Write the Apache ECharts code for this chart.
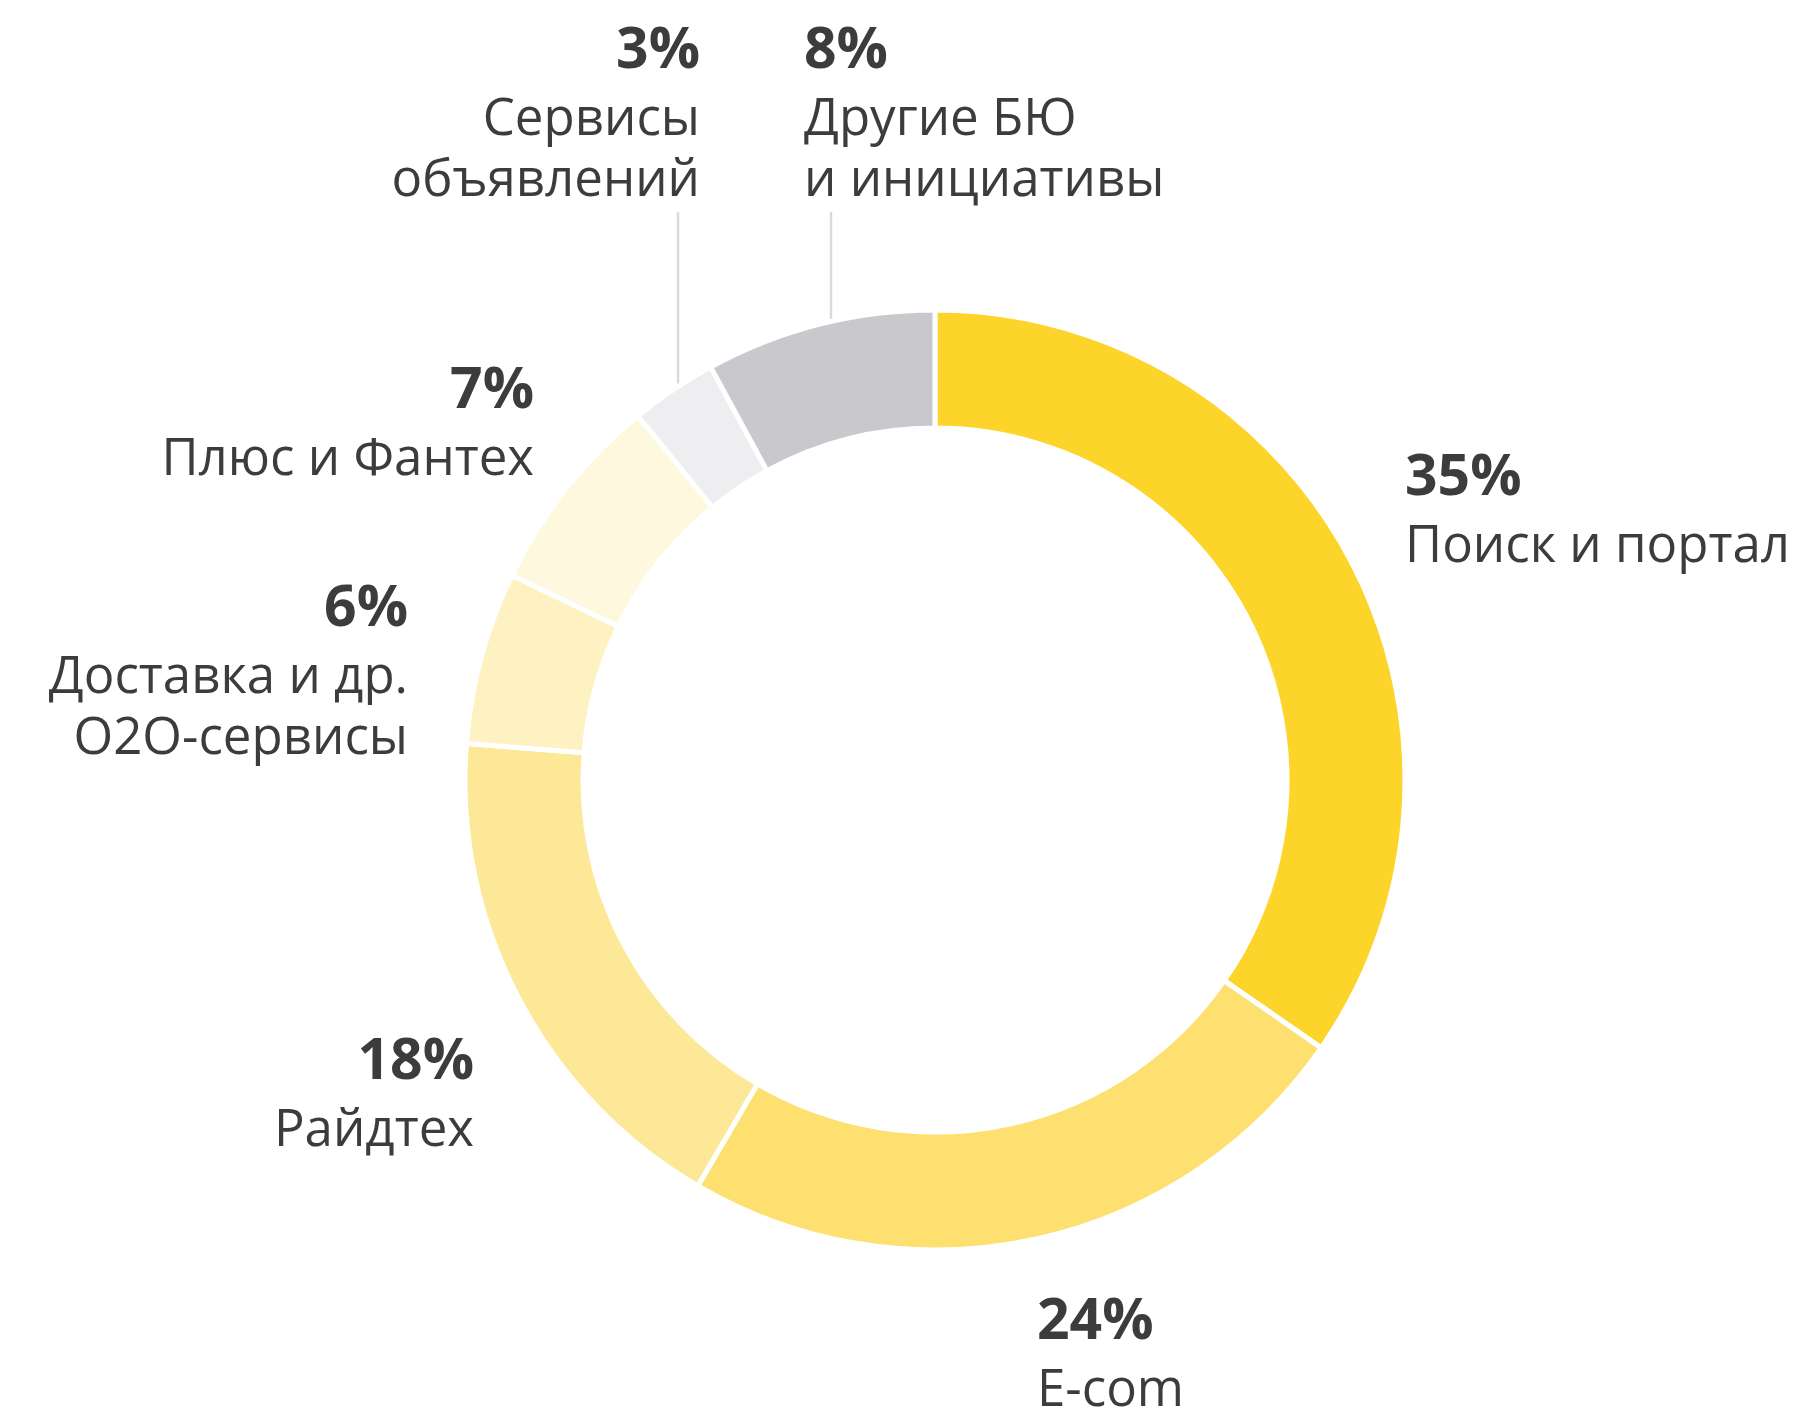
<!DOCTYPE html>
<html>
<head>
<meta charset="utf-8">
<script src="https://cdn.jsdelivr.net/npm/echarts@6/dist/echarts.min.js"></script>
<style>
  html, body { margin: 0; padding: 0; background: #ffffff; }
  #chart { width: 1813px; height: 1411px; }
</style>
</head>
<body>
<div id="chart"></div>
<script>
// Revenue structure by business segment, %
const categories = [
  'Поиск и портал',
  'E-com',
  'Райдтех',
  'Доставка и др.\nO2O-сервисы',
  'Плюс и Фантех',
  'Сервисы\nобъявлений',
  'Другие БЮ\nи инициативы'
];
const shares = [35, 24, 18, 6, 7, 3, 8];

const sliceColors = ['#fcd42a', '#fee070', '#fde897', '#fef2c2', '#fef8de', '#eeeef0', '#c9c9cd'];

// Label placement: text anchor, alignment side, optional leader line
const labelAnchors = [
  { x: 1405, y: 440, side: 'left' },
  { x: 1037, y: 1284, side: 'left' },
  { x: 474, y: 1024, side: 'right' },
  { x: 408, y: 571, side: 'right' },
  { x: 534, y: 353, side: 'right' },
  { x: 700, y: 13, side: 'right', line: [[678, 212], [678, 298], [678, 384]] },
  { x: 804, y: 13, side: 'left', line: [[831, 212], [831, 265], [831, 319]] }
];

const textColor = '#3c3c3a';
const fontFamily = '"Open Sans", "Noto Sans", sans-serif';

const chart = echarts.init(document.getElementById('chart'), null, { renderer: 'canvas' });

const seriesData = categories.map((name, i) => ({
  name: name,
  value: shares[i],
  itemStyle: { color: sliceColors[i] },
  labelLine: { show: !!labelAnchors[i].line }
}));

const pctStyle = { fontFamily: fontFamily, fontWeight: 700, fontSize: 57, lineHeight: 77, color: textColor };
const nameStyle = { fontFamily: fontFamily, fontWeight: 400, fontSize: 51, lineHeight: 61, color: textColor };

chart.setOption({
  backgroundColor: '#ffffff',
  animation: false,
  series: [{
    type: 'pie',
    center: [935, 780],
    radius: [352, 470],
    startAngle: 90,
    clockwise: true,
    avoidLabelOverlap: false,
    itemStyle: { borderColor: '#ffffff', borderWidth: 5 },
    label: {
      show: true,
      position: 'outside',
      formatter: function (p) {
        const s = labelAnchors[p.dataIndex].side === 'right' ? 'R' : 'L';
        return '{p' + s + '|' + p.value + '%}\n{n' + s + '|' + p.name + '}';
      },
      rich: {
        pL: Object.assign({ align: 'left' }, pctStyle),
        nL: Object.assign({ align: 'left' }, nameStyle),
        pR: Object.assign({ align: 'right' }, pctStyle),
        nR: Object.assign({ align: 'right' }, nameStyle)
      }
    },
    labelLine: {
      lineStyle: { color: '#d7dbe3', width: 2.5 }
    },
    labelLayout: function (params) {
      const a = labelAnchors[params.dataIndex];
      const out = {
        x: a.x,
        y: a.y,
        align: a.side,
        verticalAlign: 'top'
      };
      if (a.line) out.labelLinePoints = a.line;
      return out;
    },
    emphasis: { disabled: true },
    data: seriesData
  }]
});
</script>
</body>
</html>
